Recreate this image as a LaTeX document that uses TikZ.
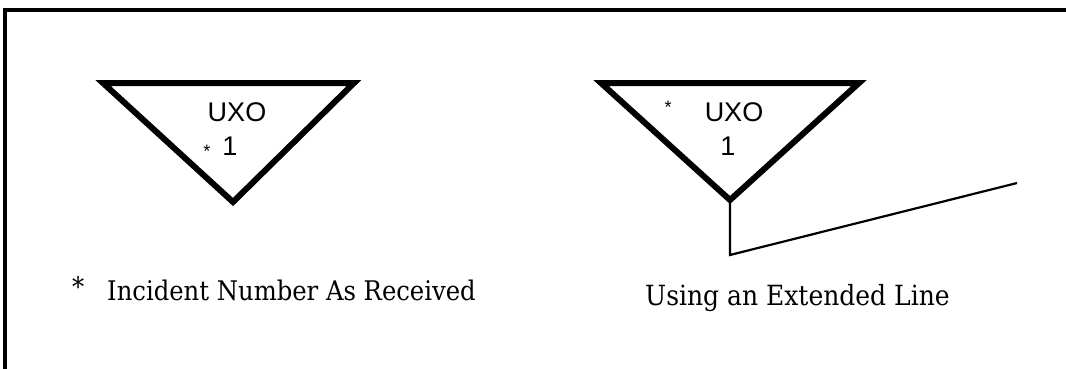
\documentclass[tikz,border=0pt]{standalone}
\usepackage{fontspec}
\setmainfont{DejaVu Serif Condensed}
\newfontfamily\uxofont{Liberation Sans}
\begin{document}
\begin{tikzpicture}[x=1pt,y=-1pt,
  frameline/.style={line width=4pt},
  tri/.style={line width=6pt, line join=miter},
  extline/.style={line width=2.2pt},
  uxolabel/.style={font=\uxofont\fontsize{27}{27}\selectfont, inner sep=0pt},
  astsmall/.style={font=\uxofont\fontsize{18}{18}\selectfont, inner sep=0pt},
  caption/.style={font=\fontsize{27}{27}\selectfont, inner sep=0pt, anchor=base west}
]
\useasboundingbox (0,0) rectangle (1066,368);
% frame (only left and top edges visible)
\coordinate (fbl) at (5,370);
\coordinate (ftl) at (5,10);
\coordinate (ftr) at (1068,10);
\draw[frameline] (fbl) -- (ftl) -- (ftr);

% triangle 1
\coordinate (a1) at (103,83);
\coordinate (b1) at (354,83);
\coordinate (c1) at (233,202);
\draw[tri] (a1) -- (b1) -- (c1) -- cycle;
\node[uxolabel] (uxo1) at (237,112) {UXO};
\node[uxolabel] (num1) at (230,146) {1};
\node[astsmall] (ast1) at (207,151) {*};

% triangle 2
\coordinate (a2) at (601,83);
\coordinate (b2) at (859,83);
\coordinate (c2) at (730,200);
\draw[tri] (a2) -- (b2) -- (c2) -- cycle;
\node[uxolabel] (uxo2) at (734,112) {UXO};
\node[uxolabel] (num2) at (728,146) {1};
\node[astsmall] (ast2) at (668,107) {*};

% extended line
\coordinate (elbow) at (730,255);
\coordinate (lend) at (1017,183);
\draw[extline] (c2) -- (elbow) -- (lend);

% captions
\node[caption] (astnote) at (72,296) {*};
\node[caption] (cap1) at (107,300) {Incident Number As Received};
\node[caption, font=\fontsize{27.8}{28}\selectfont] (cap2) at (645,305) {Using an Extended Line};
\end{tikzpicture}
\end{document}
